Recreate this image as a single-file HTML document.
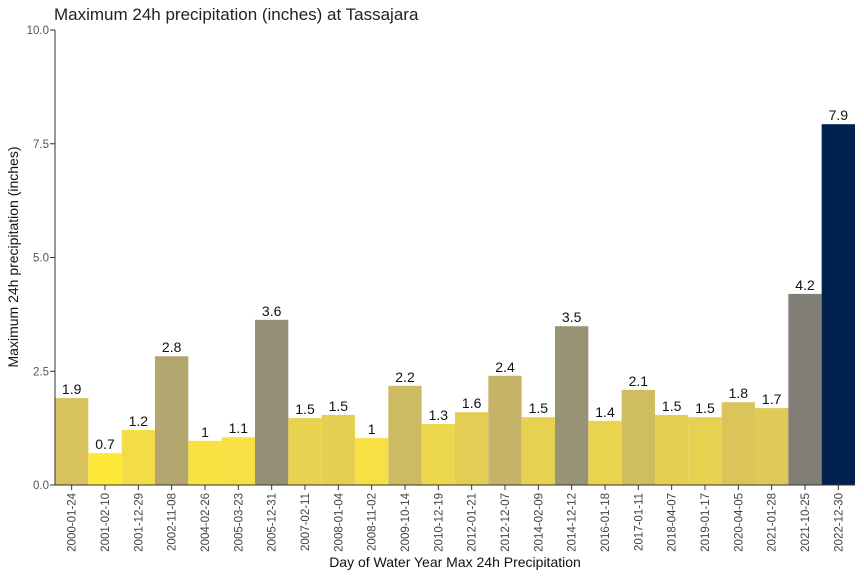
<!DOCTYPE html>
<html><head><meta charset="utf-8"><style>
body{margin:0;background:#fff;font-family:"Liberation Sans","DejaVu Sans",sans-serif}
svg text{font-family:"Liberation Sans","DejaVu Sans",sans-serif}
</style></head><body>
<svg id="chart" width="864" height="576" xmlns="http://www.w3.org/2000/svg">
<text x="54" y="20" font-size="17" fill="#222">Maximum 24h precipitation (inches) at Tassajara</text>
<g id="bars"></g>
<g id="axes"></g>
<text x="455" y="567" font-size="14" text-anchor="middle" fill="#111">Day of Water Year Max 24h Precipitation</text>
<text transform="translate(18,257) rotate(-90)" font-size="14" text-anchor="middle" fill="#111">Maximum 24h precipitation (inches)</text>
</svg>
<script>
const categories=["2000-01-24","2001-02-10","2001-12-29","2002-11-08","2004-02-26","2005-03-23","2005-12-31","2007-02-11","2008-01-04","2008-11-02","2009-10-14","2010-12-19","2012-01-21","2012-12-07","2014-02-09","2014-12-12","2016-01-18","2017-01-11","2018-04-07","2019-01-17","2020-04-05","2021-01-28","2021-10-25","2022-12-30"];
const values=[1.91,0.70,1.21,2.83,0.97,1.05,3.63,1.47,1.54,1.03,2.18,1.34,1.60,2.40,1.49,3.49,1.41,2.09,1.54,1.49,1.82,1.69,4.20,7.93];
const yTicks=[0,2.5,5,7.5,10];
const yTickLabels=["0.0","2.5","5.0","7.5","10.0"];
</script>
<script>
const NS="http://www.w3.org/2000/svg";
const L=55,R=855,T=30,B=485;
const labels=categories;
const vals=values;
const bw=(R-L)/vals.length;
const y=v=>B-(v/10)*(B-T);
const x=i=>L+i*bw;
const stops=[[0,"#00204d"],[0.1,"#00336f"],[0.2,"#39486b"],[0.3,"#575c6d"],[0.4,"#707173"],[0.5,"#8a8778"],[0.6,"#a59c74"],[0.7,"#c3b369"],[0.8,"#dcc65a"],[0.9,"#f3dd47"],[1,"#fee93a"]];
function hex(h){return [1,3,5].map(i=>parseInt(h.substr(i,2),16));}
function civ(t){t=Math.max(0,Math.min(1,t));for(let k=1;k<stops.length;k++){if(t<=stops[k][0]){const a=hex(stops[k-1][1]),b=hex(stops[k][1]);const f=(t-stops[k-1][0])/(stops[k][0]-stops[k-1][0]);return "rgb("+a.map((c,j)=>Math.round(c+(b[j]-c)*f)).join(",")+")";}}return stops[10][1];}
const mn=Math.min(...vals),mx=Math.max(...vals);
const bars=document.getElementById("bars"),axes=document.getElementById("axes");
function mk(tag,attrs,parent){const e=document.createElementNS(NS,tag);for(const k in attrs)e.setAttribute(k,attrs[k]);parent.appendChild(e);return e;}
vals.forEach((v,i)=>{
  const t0=(v-mn)/(mx-mn);
  const r=mk("rect",{x:x(i),y:y(v),width:bw,height:B-y(v),fill:civ(1-Math.pow(t0,0.85))},bars);
  
  
  const t=mk("text",{x:x(i)+bw/2,y:y(v)-4,"font-size":14,"text-anchor":"middle",fill:"#111"},bars);
  t.textContent=String(Math.round(v*10)/10);
  
  
  const tk=mk("line",{x1:x(i)+bw/2,x2:x(i)+bw/2,y1:B,y2:B+5,stroke:"#333"},axes);
  
  
  const cx=x(i)+bw/2+4,cy=B+8;
  const lt=mk("text",{x:cx,y:cy,"font-size":11.5,fill:"#444","text-anchor":"end",transform:"rotate(-90,"+cx+","+cy+")"},axes);
  lt.textContent=labels[i];
  
  
});
yTicks.forEach((v,i)=>{
  const tk=mk("line",{x1:L-5,x2:L,y1:y(v),y2:y(v),stroke:"#333"},axes);
  
  
  const t=mk("text",{x:L-6,y:y(v)+4,"font-size":11.5,fill:"#555","text-anchor":"end"},axes);
  t.textContent=yTickLabels[i];
  
  
});
const ya=mk("line",{x1:L,x2:L,y1:T,y2:B,stroke:"#333"},axes);


const xa=mk("line",{x1:L,x2:R,y1:B,y2:B,stroke:"#333"},axes);


</script>
</body></html>
